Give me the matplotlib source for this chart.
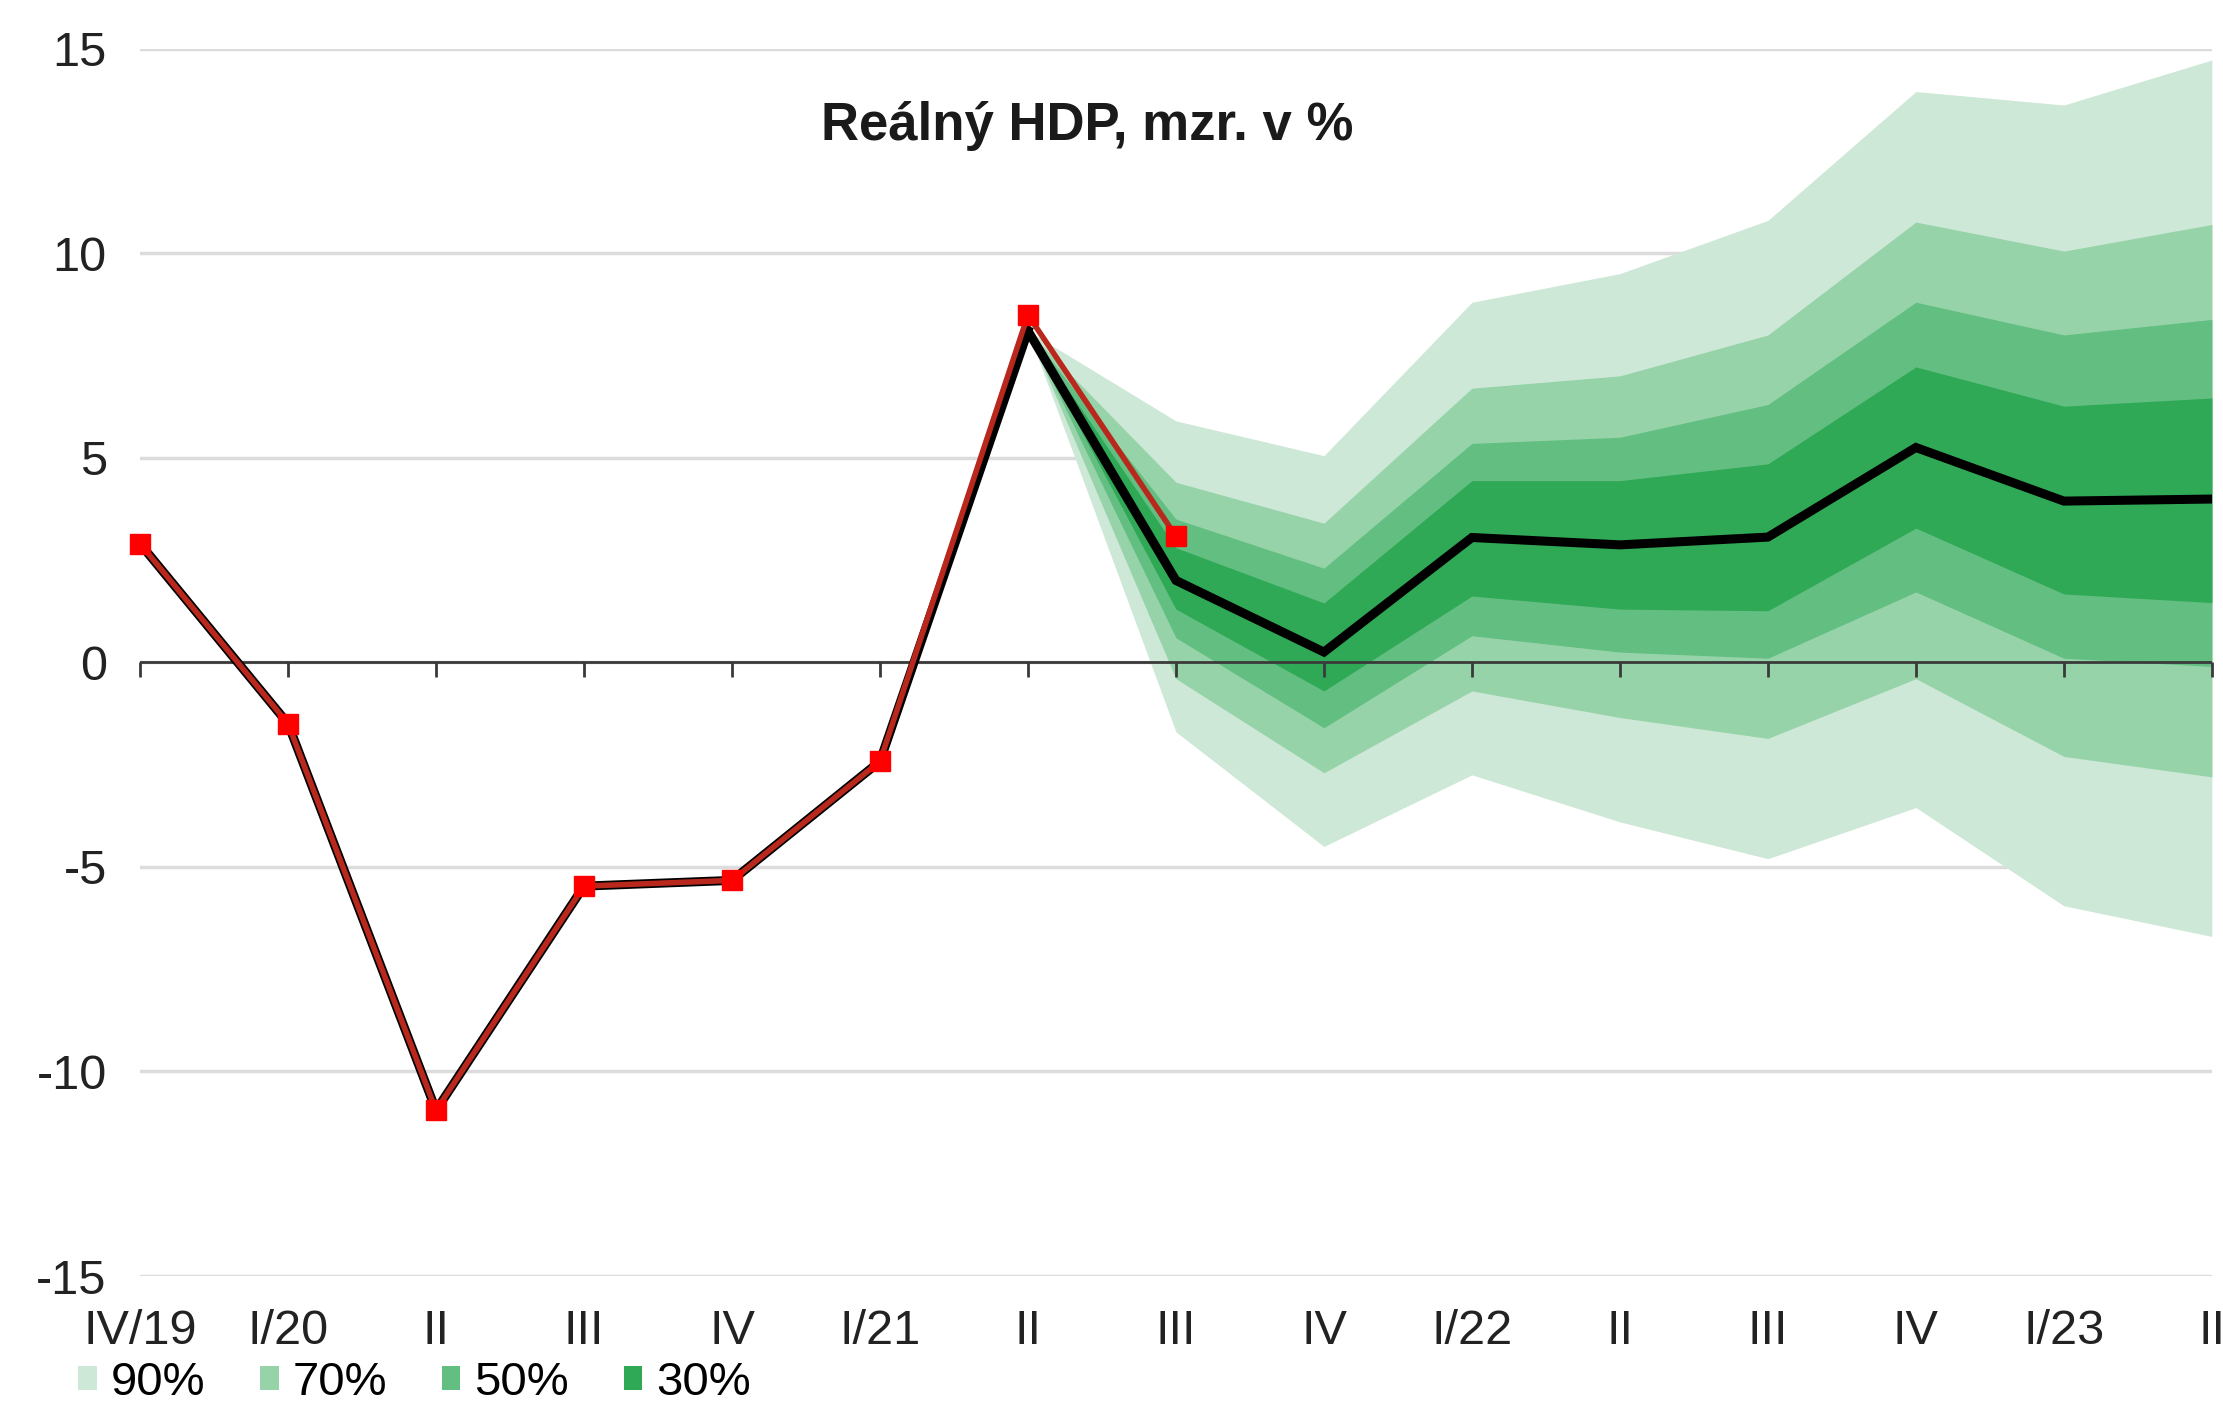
import numpy as np
import matplotlib.pyplot as plt
from matplotlib.patches import Patch

plt.rcParams['font.family'] = ['Liberation Sans', 'DejaVu Sans']
plt.rcParams['axes.unicode_minus'] = False

# popisky ctvrtleti
kvartaly = ['IV/19', 'I/20', 'II', 'III', 'IV', 'I/21', 'II', 'III', 'IV',
            'I/22', 'II', 'III', 'IV', 'I/23', 'II']

# skutecnost (cervena) IV/19 .. III/21
skutecnost = [2.9, -1.5, -10.95, -5.47, -5.33, -2.42, 8.49, 3.08]

# historie + prognoza (cerna) IV/19 .. II/23
historie = [2.9, -1.5, -10.95, -5.47, -5.33, -2.42, 8.1]
prognoza = [8.1, 2.0, 0.25, 3.05, 2.87, 3.06, 5.25, 3.94, 3.99]

# pasy nejistoty II/21 .. II/23
horni_90 = [8.1, 5.9, 5.05, 8.8, 9.5, 10.8, 13.95, 13.62, 14.72]
horni_70 = [8.1, 4.4, 3.4, 6.7, 7.0, 8.0, 10.76, 10.05, 10.7]
horni_50 = [8.1, 3.5, 2.3, 5.35, 5.5, 6.3, 8.8, 8.0, 8.38]
horni_30 = [8.1, 2.8, 1.45, 4.44, 4.44, 4.85, 7.22, 6.26, 6.46]
dolni_30 = [8.1, 1.3, -0.7, 1.62, 1.3, 1.26, 3.28, 1.67, 1.46]
dolni_50 = [8.1, 0.6, -1.6, 0.65, 0.25, 0.1, 1.72, 0.1, -0.1]
dolni_70 = [8.1, -0.4, -2.7, -0.7, -1.35, -1.86, -0.4, -2.3, -2.8]
dolni_90 = [8.1, -1.7, -4.5, -2.75, -3.9, -4.8, -3.55, -5.95, -6.7]

pasy = ['90%', '70%', '50%', '30%']
barvy = ['#cde8d6', '#96d3a9', '#62be81', '#30a956']

x = np.arange(len(kvartaly))
x_hist = x[:len(historie)]
x_prog = x[len(historie) - 1:]
x_skut = x[:len(skutecnost)]

fig = plt.figure(figsize=(22.23, 14.28), dpi=100)
ax = fig.add_axes([0.063, 0.1064, 0.932, 0.8596])

# pasy od nejsirsiho
horni = [horni_90, horni_70, horni_50, horni_30]
dolni = [dolni_90, dolni_70, dolni_50, dolni_30]
for h, d, b, p in zip(horni, dolni, barvy, pasy):
    ax.fill_between(x_prog, d, h, color=b, linewidth=0, zorder=1, label=p)

# osa nuly s carkami
ax.axhline(0, color='#3a3a3a', linewidth=2, zorder=3)
ax.plot(x, np.zeros(len(x)), linestyle='none', marker=3, markersize=11,
        markeredgewidth=2, color='#3a3a3a', zorder=3, clip_on=False)

# cerna linie
ax.plot(x_hist, historie, color='black', linewidth=6.5, zorder=4,
        solid_joinstyle='miter')
ax.plot(x_prog, prognoza, color='black', linewidth=6.5, zorder=4,
        solid_joinstyle='miter')

# cervena linie
ax.plot(x_skut, skutecnost, color='#b8281d', linewidth=4, zorder=5,
        marker='s', markersize=15, markerfacecolor='#ff0000',
        markeredgecolor='#ff0000', clip_on=False)

ax.set_xlim(0, len(kvartaly) - 1)
ax.set_ylim(-15, 15)
ax.set_yticks([-15, -10, -5, 0, 5, 10, 15])
ax.set_xticks(x)
ax.set_xticklabels(kvartaly)
ax.grid(axis='y', color='#dcdcdc', linewidth=2.5, zorder=0)
ax.set_axisbelow(True)
for s in ax.spines.values():
    s.set_visible(False)
ax.tick_params(axis='both', length=0, labelsize=35, colors='#222222')
ax.tick_params(axis='x', pad=24)
ax.tick_params(axis='y', pad=24)

ax.text(6.4, 13.1, 'Reálný HDP, mzr. v %', ha='center', va='center',
        fontsize=38, fontweight='bold', color='#1a1a1a')

handles = [Patch(facecolor=b, edgecolor='none', label=p) for b, p in zip(barvy, pasy)]
fig.legend(handles=handles, loc='lower left', bbox_to_anchor=(0.035, 0.016),
           ncol=4, frameon=False, fontsize=34, handlelength=0.4,
           handleheight=0.4, handletextpad=0.3, columnspacing=1.15,
           borderpad=0, borderaxespad=0)

fig.savefig('out.png', dpi=100)
